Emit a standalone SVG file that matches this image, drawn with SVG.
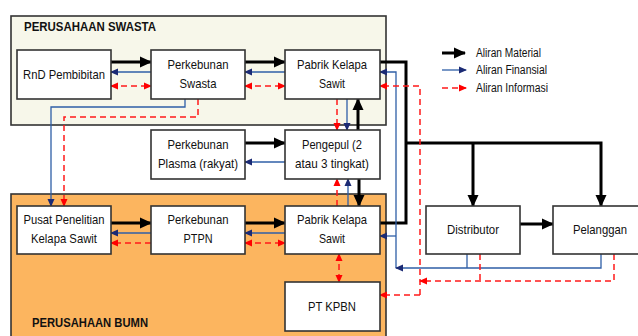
<svg xmlns="http://www.w3.org/2000/svg" width="638" height="336" viewBox="0 0 638 336">
<style>
.cont{stroke:#333;stroke-width:1.6}
.box{fill:#fff;stroke:#333;stroke-width:1.6}
.lbl{font-family:"Liberation Sans",Arial,sans-serif;font-size:13px;fill:#111;text-anchor:middle}
.title{font-family:"Liberation Sans",Arial,sans-serif;font-size:13.5px;font-weight:bold;fill:#111}
.leg{font-family:"Liberation Sans",Arial,sans-serif;font-size:12.5px;fill:#111}
.mat{fill:none;stroke:#000;stroke-width:3}
.fin{fill:none;stroke:#2f5fa7;stroke-width:1.3}
.inf{fill:none;stroke:#ff1a1a;stroke-width:1.5;stroke-dasharray:6,4}
.matA{marker-end:url(#ab)}
.finA{marker-end:url(#au)}
.infA{marker-end:url(#ar)}
.infB{marker-start:url(#ar);marker-end:url(#ar)}
</style>
<defs>
<marker id="ab" markerUnits="userSpaceOnUse" markerWidth="12" markerHeight="12" refX="11" refY="6" orient="auto-start-reverse"><path d="M0,0.5 L12,6 L0,11.5 z" fill="#000"/></marker>
<marker id="au" markerUnits="userSpaceOnUse" markerWidth="8" markerHeight="8" refX="7" refY="4" orient="auto-start-reverse"><path d="M0,0.5 L8,4 L0,7.5 z" fill="#1b2a74"/></marker>
<marker id="ar" markerUnits="userSpaceOnUse" markerWidth="8" markerHeight="8" refX="7" refY="4" orient="auto-start-reverse"><path d="M0,0.5 L8,4 L0,7.5 z" fill="#ff0000"/></marker>
</defs>
<rect width="638" height="336" fill="#fff"/>
<g id="swasta">
<rect class="cont" x="11" y="16" width="375" height="109" fill="#f7f7ea"/>
<text class="title" x="24" y="31" textLength="132" lengthAdjust="spacingAndGlyphs">PERUSAHAAN SWASTA</text>
</g>
<g id="bumn">
<rect class="cont" x="11" y="194" width="375" height="160" fill="#fcb55f"/>
<text class="title" x="32" y="327" textLength="116" lengthAdjust="spacingAndGlyphs">PERUSAHAAN BUMN</text>
</g>
<g id="legend">
<line class="mat" x1="442" y1="53" x2="465" y2="53" style="marker-end:url(#ab)"/>
<text class="leg" x="476" y="57" textLength="65" lengthAdjust="spacingAndGlyphs">Aliran Material</text>
<line class="fin" x1="442" y1="70" x2="466" y2="70" style="marker-end:url(#au)"/>
<text class="leg" x="476" y="74" textLength="71" lengthAdjust="spacingAndGlyphs">Aliran Finansial</text>
<line class="inf" x1="442" y1="88" x2="466" y2="88" style="marker-end:url(#ar)"/>
<text class="leg" x="476" y="92" textLength="72" lengthAdjust="spacingAndGlyphs">Aliran Informasi</text>
</g>
<g id="connectors">
<path class="mat matA" d="M111,62 H151"/>
<path class="fin finA" d="M151,72 H111"/>
<path class="inf infB" d="M111,86 H151"/>
<path class="mat matA" d="M245,62 H285"/>
<path class="fin finA" d="M285,72 H245"/>
<path class="inf infB" d="M245,86 H285"/>
<path class="fin finA" d="M185,99 V107 H51 V206"/>
<path class="inf infA" d="M198,99 V117 H64 V206"/>
<path class="mat matA" d="M245,143 H285"/>
<path class="fin finA" d="M285,162 H245"/>
<path class="inf infA" d="M337,99 V130"/>
<path class="fin finA" d="M347,99 V130"/>
<path class="mat matA" d="M358,130 V99"/>
<path class="inf infA" d="M337,206 V179"/>
<path class="fin finA" d="M348,206 V179"/>
<path class="mat matA" d="M359,179 V206"/>
<path class="mat matA" d="M111,223 H151"/>
<path class="fin finA" d="M151,233 H111"/>
<path class="inf infA" d="M151,243 H111"/>
<path class="mat matA" d="M245,223 H285"/>
<path class="fin finA" d="M285,233 H245"/>
<path class="inf infB" d="M245,243 H285"/>
<path class="inf infB" d="M339,254 V282"/>
<path class="mat" d="M380,62 H406 V223 H380"/>
<path class="mat matA" d="M406,143 H601 V206"/>
<path class="mat matA" d="M473,143 V206"/>
<path class="mat matA" d="M520,224 H553"/>
<path class="fin finA" d="M396,268 V72 H380"/>
<path class="fin finA" d="M396,236 H380"/>
<path class="fin finA" d="M601,254 V268 H396"/>
<path class="fin" d="M467,254 V268"/>
<path class="inf infA" d="M420,295 V86 H380"/>
<path class="inf infA" d="M420,295 H380"/>
<path class="inf infA" d="M614,254 V281 H420"/>
<path class="inf" d="M480,254 V281"/>
</g>
<g id="rnd"><rect class="box" x="17" y="50" width="94" height="49"/><text class="lbl" x="64" y="79" textLength="82" lengthAdjust="spacingAndGlyphs">RnD Pembibitan</text></g>
<g id="perk-swasta"><rect class="box" x="151" y="50" width="94" height="49"/><text class="lbl" x="198" y="69" textLength="61" lengthAdjust="spacingAndGlyphs">Perkebunan</text><text class="lbl" x="198" y="88" textLength="37" lengthAdjust="spacingAndGlyphs">Swasta</text></g>
<g id="pabrik1"><rect class="box" x="285" y="50" width="95" height="49"/><text class="lbl" x="332" y="69" textLength="70" lengthAdjust="spacingAndGlyphs">Pabrik Kelapa</text><text class="lbl" x="332" y="88" textLength="26" lengthAdjust="spacingAndGlyphs">Sawit</text></g>
<g id="plasma"><rect class="box" x="151" y="130" width="94" height="49"/><text class="lbl" x="198" y="149" textLength="61" lengthAdjust="spacingAndGlyphs">Perkebunan</text><text class="lbl" x="198" y="168" textLength="80" lengthAdjust="spacingAndGlyphs">Plasma (rakyat)</text></g>
<g id="pengepul"><rect class="box" x="285" y="130" width="95" height="49"/><text class="lbl" x="332" y="149" textLength="60" lengthAdjust="spacingAndGlyphs">Pengepul (2</text><text class="lbl" x="332" y="168" textLength="74" lengthAdjust="spacingAndGlyphs">atau 3 tingkat)</text></g>
<g id="pusat"><rect class="box" x="17" y="206" width="94" height="48"/><text class="lbl" x="64" y="224" textLength="81" lengthAdjust="spacingAndGlyphs">Pusat Penelitian</text><text class="lbl" x="64" y="243" textLength="66" lengthAdjust="spacingAndGlyphs">Kelapa Sawit</text></g>
<g id="ptpn"><rect class="box" x="151" y="206" width="94" height="48"/><text class="lbl" x="198" y="224" textLength="61" lengthAdjust="spacingAndGlyphs">Perkebunan</text><text class="lbl" x="198" y="243" textLength="29" lengthAdjust="spacingAndGlyphs">PTPN</text></g>
<g id="pabrik2"><rect class="box" x="285" y="206" width="95" height="48"/><text class="lbl" x="332" y="224" textLength="70" lengthAdjust="spacingAndGlyphs">Pabrik Kelapa</text><text class="lbl" x="332" y="243" textLength="26" lengthAdjust="spacingAndGlyphs">Sawit</text></g>
<g id="kpbn"><rect class="box" x="285" y="282" width="95" height="49"/><text class="lbl" x="332" y="311" textLength="48" lengthAdjust="spacingAndGlyphs">PT KPBN</text></g>
<g id="distributor"><rect class="box" x="426" y="206" width="94" height="48"/><text class="lbl" x="473" y="234" textLength="52" lengthAdjust="spacingAndGlyphs">Distributor</text></g>
<g id="pelanggan"><rect class="box" x="553" y="206" width="100" height="48"/><text class="lbl" x="600" y="234" textLength="54" lengthAdjust="spacingAndGlyphs">Pelanggan</text></g>
</svg>
